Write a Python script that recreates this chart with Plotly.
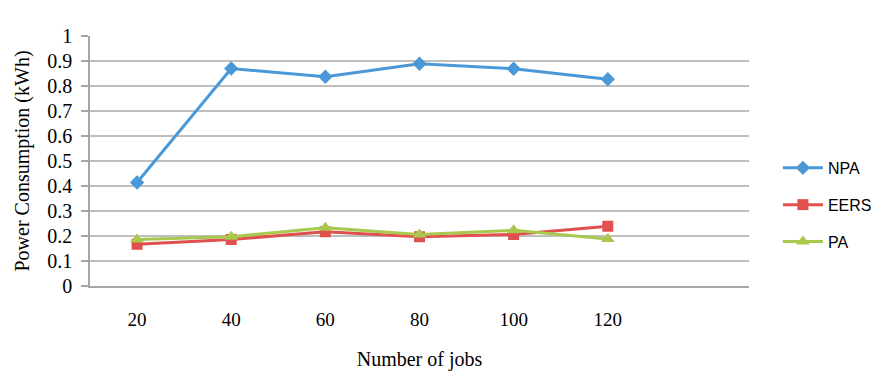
import plotly.graph_objects as go

jobs = ["20", "40", "60", "80", "100", "120"]
npa = [0.414, 0.870, 0.837, 0.889, 0.869, 0.827]
eers = [0.167, 0.186, 0.217, 0.197, 0.206, 0.239]
pa = [0.186, 0.197, 0.233, 0.206, 0.223, 0.188]
y_ticks = [0, 0.1, 0.2, 0.3, 0.4, 0.5, 0.6, 0.7, 0.8, 0.9, 1]
y_labels = ["0", "0.1", "0.2", "0.3", "0.4", "0.5", "0.6", "0.7", "0.8", "0.9", "1"]

series = [
    ("NPA", npa, "#4A98D8", "diamond", 11),
    ("EERS", eers, "#E0504E", "square", 11),
    ("PA", pa, "#A8C84E", "triangle-up", 12),
]

fig = go.Figure()
for name, vals, color, sym, sz in series:
    fig.add_trace(go.Scatter(
        x=jobs, y=vals, name=name, mode="lines+markers",
        line=dict(color=color, width=3),
        marker=dict(symbol=sym, size=sz, color=color),
        legendgroup=name,
    ))

serif = "Liberation Serif, Times New Roman, serif"
fig.update_layout(
    width=881, height=374,
    margin=dict(l=90, r=132, t=36, b=88, autoexpand=False),
    paper_bgcolor="white", plot_bgcolor="white",
    showlegend=True,
    legend=dict(xref="container", yref="container", x=0.883, xanchor="left",
                y=0.452, yanchor="middle",
                font=dict(family="Liberation Sans, Arial, sans-serif", size=16, color="#000"),
                tracegroupgap=13, traceorder="grouped", itemwidth=40,
                bgcolor="rgba(0,0,0,0)"),
    xaxis=dict(
        type="category", categoryorder="array", categoryarray=jobs + [" "],
        range=[-0.5, 6.5], showgrid=False, showline=True, linecolor="#A6A6A6",
        linewidth=1.5, ticks="", ticklabelstandoff=15, automargin=False,
        tickfont=dict(family=serif, size=19, color="#000"),
        title=dict(text="Number of jobs", font=dict(family=serif, size=20, color="#000"),
                   standoff=23),
        zeroline=False,
    ),
    yaxis=dict(
        range=[0, 1], tickvals=y_ticks, ticktext=y_labels, automargin=False,
        showgrid=True, gridcolor="#BFBFBF", gridwidth=1.5,
        showline=True, linecolor="#A6A6A6", linewidth=1.5,
        ticks="outside", ticklen=7, tickcolor="#A6A6A6", tickwidth=1.5,
        ticklabelstandoff=5,
        tickfont=dict(family=serif, size=20, color="#000"),
        title=dict(text="Power Consumption (kWh)", font=dict(family=serif, size=20, color="#000"),
                   standoff=12),
        zeroline=False,
    ),
)
fig.write_html("out.html")
